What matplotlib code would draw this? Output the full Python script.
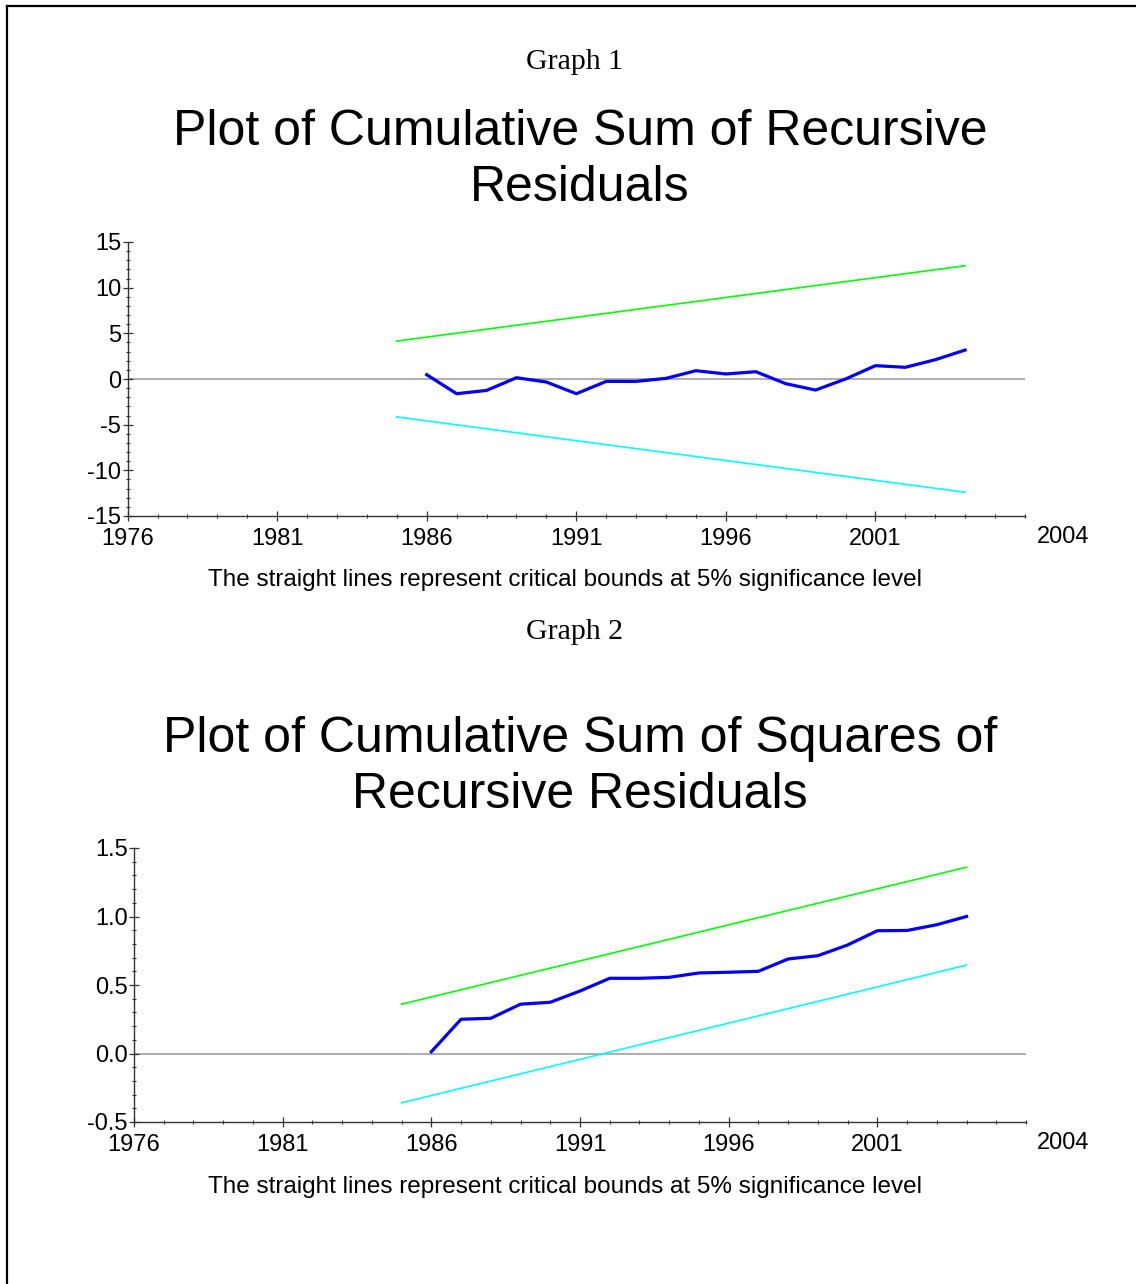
import matplotlib.pyplot as plt
import numpy as np
from matplotlib.lines import Line2D
from matplotlib.ticker import MultipleLocator

# years
years = list(range(1986, 2005))
bound_years = [1985, 2004]

# Graph 1: CUSUM
cusum = [0.47, -1.61, -1.25, 0.14, -0.33, -1.61, -0.26, -0.26, 0.07, 0.91,
         0.55, 0.80, -0.51, -1.21, 0.0, 1.46, 1.28, 2.11, 3.17]
cusum_upper = [4.15, 12.4]
cusum_lower = [-4.15, -12.4]

# Graph 2: CUSUM of squares
cusumsq = [0.013, 0.25, 0.257, 0.36, 0.374, 0.456, 0.549, 0.549, 0.556, 0.588,
           0.593, 0.600, 0.69, 0.714, 0.792, 0.896, 0.898, 0.94, 1.0]
cusumsq_upper = [0.36, 1.36]
cusumsq_lower = [-0.36, 0.645]

xticks = [1976, 1981, 1986, 1991, 1996, 2001]
caption = "The straight lines represent critical bounds at 5% significance level"

W, H = 1136, 1284
fig = plt.figure(figsize=(W / 100, H / 100), dpi=100)
sans = ['Liberation Sans', 'DejaVu Sans']
serif = ['Liberation Serif', 'DejaVu Serif']


def fx(px):
    return px / W


def fy(py):
    return 1 - py / H


# frame around the page
fig.add_artist(Line2D([fx(7), fx(7)], [fy(6), 0], color='black', lw=1.6))
fig.add_artist(Line2D([fx(7), 1], [fy(6), fy(6)], color='black', lw=1.6))


def make_panel(box, y, up, lo, ylim, major, minor, fmt, label, gy, t1, t2, ty, capy):
    l, r, t, b = box
    ax = fig.add_axes([fx(l), fy(b), fx(r) - fx(l), fy(t) - fy(b)])
    ax.axhline(0, color='#a0a0a0', lw=1.2, zorder=1)
    ax.plot(bound_years, up, color='#00ff00', lw=1.2, zorder=2)
    ax.plot(bound_years, lo, color='#00ffff', lw=1.2, zorder=2)
    ax.plot(years, y, color='#0000ff', lw=2.3, zorder=3)
    ax.set_xlim(1976, 2006)
    ax.set_ylim(*ylim)
    ax.set_xticks(xticks)
    ax.xaxis.set_minor_locator(MultipleLocator(1))
    ax.yaxis.set_major_locator(MultipleLocator(major))
    ax.yaxis.set_minor_locator(MultipleLocator(minor))
    ax.yaxis.set_major_formatter(plt.FuncFormatter(lambda v, p: fmt % v))
    for s in ['top', 'right']:
        ax.spines[s].set_visible(False)
    for s in ['left', 'bottom']:
        ax.spines[s].set_color('#333333')
        ax.spines[s].set_linewidth(1.0)
    ax.tick_params(which='major', direction='inout', length=7, width=0.9,
                   color='#333333', labelsize=17)
    ax.tick_params(which='minor', direction='inout', length=3.5, width=0.8,
                   color='#333333')
    ax.tick_params(axis='x', pad=5)
    ax.tick_params(axis='y', pad=1)
    for lab in ax.get_xticklabels() + ax.get_yticklabels():
        lab.set_fontfamily(sans)
    ax.patch.set_alpha(0)
    fig.text(fx(1037), fy(b + 21), "2004", fontsize=17, family=sans,
             ha='left', va='center')
    fig.text(fx(575), fy(gy), label, fontsize=21.5, family=serif,
             ha='center', va='center')
    fig.text(fx(580), fy(ty), t1, fontsize=36, family=sans, ha='center', va='center')
    fig.text(fx(580), fy(ty + 56), t2, fontsize=36, family=sans, ha='center', va='center')
    fig.text(fx(565), fy(capy), caption, fontsize=17.5, family=sans,
             ha='center', va='center')
    return ax


make_panel((127.6, 1025, 242, 516), cusum, cusum_upper, cusum_lower,
           (-15, 15), 5, 1, '%g', "Graph 1", 62,
           "Plot of Cumulative Sum of Recursive", "Residuals", 132, 580)
make_panel((134, 1026, 848, 1122), cusumsq, cusumsq_upper, cusumsq_lower,
           (-0.5, 1.5), 0.5, 0.1, '%.1f', "Graph 2", 632,
           "Plot of Cumulative Sum of Squares of", "Recursive Residuals", 739, 1187)

fig.savefig('out.png', dpi=100)
